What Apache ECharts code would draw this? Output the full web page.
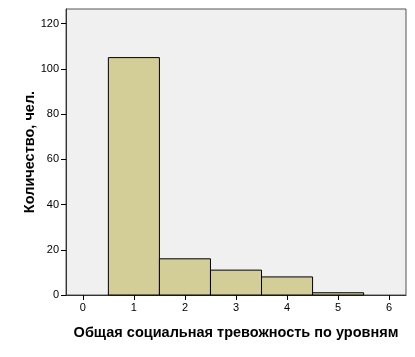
<!DOCTYPE html>
<html>
<head>
<meta charset="utf-8">
<script src="https://cdn.jsdelivr.net/npm/echarts@6/dist/echarts.min.js"></script>
<style>
html,body{margin:0;padding:0;background:#fff;}
#c{width:415px;height:357px;}
</style>
</head>
<body>
<div id="c"></div>
<script>
const levels = [1, 2, 3, 4, 5];
const counts = [105, 16, 11, 8, 1];
const xTicks = [0, 1, 2, 3, 4, 5, 6];
const yTicks = [0, 20, 40, 60, 80, 100, 120];
const xTitle = 'Общая социальная тревожность по уровням';
const yTitle = 'Количество, чел.';

const chart = echarts.init(document.getElementById('c'), null, {renderer: 'canvas'});
const font = 'Liberation Sans, Arial, sans-serif';
chart.setOption({
  animation: false,
  backgroundColor: '#ffffff',
  grid: {
    left: 66, top: 9, right: 9, bottom: 62,
    show: true, backgroundColor: '#F0F0F0', borderColor: '#555', borderWidth: 1
  },
  xAxis: {
    type: 'value', min: -0.33, max: 6.33,
    name: xTitle, nameLocation: 'middle', nameGap: 30,
    nameTextStyle: {fontFamily: font, fontWeight: 'bold', fontSize: 14.5, color: '#000'},
    axisLine: {show: true, onZero: false, lineStyle: {color: '#333', width: 1}},
    axisTick: {show: true, length: 5, lineStyle: {color: '#000'}, customValues: xTicks},
    axisLabel: {fontFamily: font, fontSize: 11, color: '#000', margin: 7, customValues: xTicks},
    splitLine: {show: false}
  },
  yAxis: {
    type: 'value', min: 0, max: 126.5,
    name: yTitle, nameLocation: 'middle', nameGap: 29, nameMoveOverlap: false,
    nameTextStyle: {fontFamily: font, fontWeight: 'bold', fontSize: 14.5, color: '#000'},
    axisLine: {show: true, onZero: false, lineStyle: {color: '#333', width: 1}},
    axisTick: {show: true, length: 5, lineStyle: {color: '#000'}, customValues: yTicks},
    axisLabel: {fontFamily: font, fontSize: 11, color: '#000', margin: 7, customValues: yTicks},
    splitLine: {show: false}
  },
  series: [{
    type: 'custom',
    data: levels.map((l, i) => [l, counts[i]]),
    renderItem: function (params, api) {
      const x = api.value(0), y = api.value(1);
      const p0 = api.coord([x - 0.5, y]);
      const p1 = api.coord([x + 0.5, 0]);
      return {
        type: 'rect',
        shape: {x: p0[0], y: p0[1], width: p1[0] - p0[0], height: p1[1] - p0[1]},
        style: {fill: '#D3CE97', stroke: '#000', lineWidth: 1}
      };
    }
  }]
});
</script>
</body>
</html>
